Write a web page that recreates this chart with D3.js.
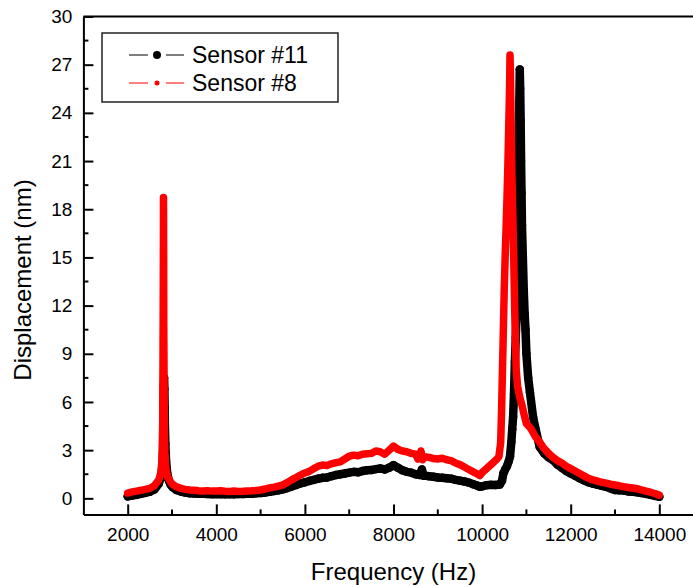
<!DOCTYPE html>
<html><head><meta charset="utf-8">
<script src="https://cdn.jsdelivr.net/npm/d3@7"></script>
<style>
html,body{margin:0;padding:0;background:#fff;}
svg{display:block;font-family:"Liberation Sans",Arial,sans-serif;}
</style></head>
<body>
<svg id="chart" width="693" height="587"></svg>
<script>
// ---------- DATA ----------
const seriesNames = ["Sensor #11", "Sensor #8"];
const xTickValues = [2000, 4000, 6000, 8000, 10000, 12000, 14000];
const yTickValues = [0, 3, 6, 9, 12, 15, 18, 21, 24, 27, 30];

// Sensor #11 (black)
const freq11 = [2000,2100,2200,2300,2400,2500,2600,2700,2750,2790,2800,2805,2810,2815,2822,2828,2834,2840,2850,2865,2890,2930,2970,3010,
3100,3200,3300,3400,3500,3600,3700,3800,3900,4000,4100,4200,4300,4400,4500,4600,4700,4800,4900,5000,
5100,5200,5300,5400,5500,5600,5700,5800,5900,6000,6100,6200,6300,6400,6500,6600,6700,6800,6900,7000,
7100,7200,7300,7400,7500,7600,7700,7800,7900,8000,8100,8200,8300,8400,8500,8600,8640,8680,8700,8800,8900,9000,
9100,9200,9300,9400,9500,9600,9700,9800,9900,9950,10000,10100,10200,10300,10400,10450,10480,10520,10560,10600,10630,
10660,10680,10700,10720,10740,10760,10780,10800,10810,10820,10830,10840,10850,10860,10870,10880,10890,10900,10920,10940,10960,10980,
11000,11040,11080,11150,11200,11300,11400,11500,11600,11700,11800,11900,12000,12100,12200,12300,12400,12500,12600,12700,12800,12900,
13000,13100,13200,13300,13400,13500,13600,13700,13800,13900,14000];
const disp11 = [0.12,0.18,0.22,0.28,0.34,0.41,0.55,0.9,1.3,2.2,3.2,4.5,5.8,7.0,7.5,6.8,5.6,4.5,3.4,2.4,1.6,1.1,0.85,0.7,
0.52,0.42,0.36,0.32,0.30,0.28,0.28,0.27,0.26,0.27,0.26,0.25,0.26,0.25,0.27,0.27,0.28,0.29,0.31,0.33,
0.36,0.40,0.45,0.50,0.56,0.64,0.73,0.83,0.93,1.0,1.08,1.15,1.22,1.28,1.30,1.38,1.45,1.50,1.55,1.60,
1.65,1.62,1.70,1.75,1.76,1.82,1.86,1.80,1.90,2.07,1.90,1.75,1.65,1.60,1.50,1.45,1.8,1.4,1.42,1.38,1.34,1.30,
1.28,1.25,1.22,1.15,1.10,1.05,0.98,0.88,0.78,0.72,0.75,0.82,0.84,0.83,0.86,1.1,1.55,1.8,2.0,2.3,2.6,
3.5,4.3,5.07,6.5,8.5,10.0,11.5,14.0,16.7,19.0,22.0,24.5,26.7,25.5,23.5,21.0,19.0,17.0,15.0,13.0,11.5,10.5,
9.0,7.5,6.6,5.07,4.4,3.2,2.8,2.55,2.38,2.1,1.9,1.7,1.55,1.4,1.25,1.12,1.0,0.92,0.85,0.78,0.72,0.62,
0.52,0.50,0.48,0.43,0.41,0.38,0.33,0.28,0.22,0.16,0.10];

// Sensor #8 (red)
const freq8 = [2000,2100,2200,2300,2400,2500,2600,2700,2750,2770,2780,2790,2793,2795,2797,2799,2801,2803,2805,2806,2807,2808,2809,2810,2811,2812,2813,2814,2816,2818,2820,2823,2826,2830,2840,2860,2900,2950,3000,
3100,3200,3300,3400,3500,3600,3700,3800,3900,4000,4100,4200,4300,4400,4500,4600,4700,4800,4900,5000,
5100,5200,5300,5400,5500,5600,5700,5800,5900,6000,6100,6200,6300,6400,6500,6600,6700,6800,6900,7000,
7100,7200,7300,7400,7500,7600,7700,7800,7900,8000,8100,8200,8300,8400,8500,8550,8600,8620,8660,8700,8800,8900,9000,
9100,9200,9300,9400,9500,9600,9700,9800,9900,9950,10000,10100,10200,10300,10350,10380,10420,10440,10460,10480,10500,10520,10540,10560,10580,10600,10620,10630,
10640,10650,10660,10670,10690,10710,10730,10750,10770,10800,10850,10900,10950,11000,11050,11100,11150,11200,11300,11400,11500,11600,11700,11800,11900,
12000,12100,12200,12300,12400,12500,12600,12700,12800,12900,13000,13100,13200,13300,13400,13500,13600,13700,13800,13900,14000];
const disp8 = [0.33,0.40,0.45,0.50,0.56,0.62,0.78,1.14,1.6,2.2,3.0,4.5,6.0,7.45,8.38,10.14,11.32,13.0,14.97,15.88,17.08,18.73,17.97,16.15,15.6,14.18,12.7,11.04,9.94,9.04,7.86,6.5,5.2,4.0,2.8,1.9,1.35,1.1,0.9,
0.72,0.62,0.56,0.52,0.50,0.47,0.46,0.48,0.45,0.45,0.47,0.44,0.43,0.45,0.43,0.44,0.46,0.47,0.49,0.52,
0.58,0.65,0.70,0.76,0.83,0.98,1.15,1.30,1.45,1.58,1.68,1.85,2.0,2.07,2.05,2.15,2.22,2.27,2.45,2.62,
2.69,2.65,2.75,2.78,2.80,2.95,2.90,2.75,3.0,3.25,3.05,2.95,2.90,2.80,2.75,2.45,2.69,2.95,2.4,2.6,2.55,2.48,2.45,
2.5,2.4,2.35,2.2,2.1,1.95,1.8,1.65,1.5,1.42,1.6,1.85,2.1,2.35,2.5,2.6,3.5,5.5,8.0,10.5,13.0,15.0,16.7,18.5,20.5,23.0,25.5,27.6,
26.5,24.5,22.5,20.5,18.0,15.5,12.5,10.0,8.0,7.0,6.3,5.8,5.2,4.66,4.5,4.35,4.1,3.85,3.5,3.1,2.8,2.55,2.35,2.2,2.0,
1.85,1.7,1.55,1.4,1.25,1.15,1.08,1.0,0.95,0.88,0.83,0.78,0.72,0.68,0.64,0.6,0.52,0.45,0.38,0.3,0.2];

// ---------- CHART ----------
const svg = d3.select("#chart");
const x = d3.scaleLinear().domain([1000, 15000]).range([83.4, 703.6]);
const y = d3.scaleLinear().domain([-1, 30]).range([514.4, 16.5]);

const series = [
  {name: seriesNames[0], f: freq11, v: disp11, color: "#000000", r: 4.2, bw: 8.5},
  {name: seriesNames[1], f: freq8, v: disp8, color: "#ff0000", r: 3, bw: 7.5}
];

const line = d3.line().x(d => x(d[0])).y(d => y(d[1]));

series.forEach(s => {
  const pts = s.f.map((f, i) => [f, s.v[i]]);
  const g = svg.append("g");
  g.append("path").datum(pts).attr("d", line)
    .attr("fill", "none").attr("stroke", s.color).attr("stroke-width", s.bw)
    .attr("stroke-linejoin", "round").attr("stroke-linecap", "round");
  g.selectAll("circle").data(pts).join("circle")
    .attr("cx", d => x(d[0])).attr("cy", d => y(d[1])).attr("r", s.r)
    .attr("fill", s.color);
});

// Frame
const frame = svg.append("g").attr("stroke", "#000").attr("stroke-width", 2).attr("fill", "none");
frame.append("line").attr("x1", x(1000)).attr("x2", x(15000)).attr("y1", y(30)).attr("y2", y(30));
frame.append("line").attr("x1", x(15000)).attr("x2", x(15000)).attr("y1", y(30)).attr("y2", y(-1));

// Axes
const xAxis = d3.axisBottom(x).tickValues(xTickValues).tickSize(-10).tickSizeOuter(0).tickPadding(13.5).tickFormat(d3.format("d"));
const gx = svg.append("g").attr("transform", `translate(0,${y(-1)})`).call(xAxis);
const yAxis = d3.axisLeft(y).tickValues(yTickValues).tickSize(-10).tickSizeOuter(0).tickPadding(11).tickFormat(d3.format("d"));
const gy = svg.append("g").attr("transform", `translate(${x(1000)},0)`).call(yAxis);

[gx, gy].forEach(g => {
  g.select(".domain").attr("stroke-width", 2);
  g.selectAll(".tick line").attr("stroke-width", 2);
  g.selectAll(".tick text").attr("font-size", 19).attr("fill", "#000")
    .attr("font-family", "'Liberation Sans', Arial, sans-serif");
});

// Minor ticks
const xMinor = d3.range(3000, 14000, 2000);
svg.append("g").selectAll("line").data(xMinor).join("line")
  .attr("x1", d => x(d)).attr("x2", d => x(d)).attr("y1", y(-1)).attr("y2", y(-1) - 5)
  .attr("stroke", "#000").attr("stroke-width", 2);
const yMinor = d3.range(1.5, 30, 3);
svg.append("g").selectAll("line").data(yMinor).join("line")
  .attr("x1", x(1000)).attr("x2", x(1000) + 5).attr("y1", d => y(d)).attr("y2", d => y(d))
  .attr("stroke", "#000").attr("stroke-width", 2);

// Axis titles
svg.append("text").attr("x", (x(1000) + x(15000)) / 2).attr("y", 580)
  .attr("text-anchor", "middle").attr("font-size", 24).text("Frequency (Hz)");
svg.append("text").attr("transform", `translate(31,${280}) rotate(-90)`)
  .attr("text-anchor", "middle").attr("font-size", 24).text("Displacement (nm)");

// Legend
const leg = svg.append("g");
leg.append("rect").attr("x", 102).attr("y", 33).attr("width", 236).attr("height", 69)
  .attr("fill", "#fff").attr("stroke", "#222").attr("stroke-width", 1.5);
series.forEach((s, i) => {
  const cy = 55 + i * 28;
  leg.append("line").attr("x1", 129).attr("x2", 148).attr("y1", cy).attr("y2", cy).attr("stroke", s.color).attr("stroke-width", 1);
  leg.append("line").attr("x1", 166).attr("x2", 184).attr("y1", cy).attr("y2", cy).attr("stroke", s.color).attr("stroke-width", 1);
  leg.append("circle").attr("cx", 157).attr("cy", cy).attr("r", i === 0 ? 4 : 2.5).attr("fill", s.color);
  leg.append("text").attr("x", 192).attr("y", cy + 8).attr("font-size", 23).attr("fill", "#000").text(s.name);
});
</script>
</body></html>
